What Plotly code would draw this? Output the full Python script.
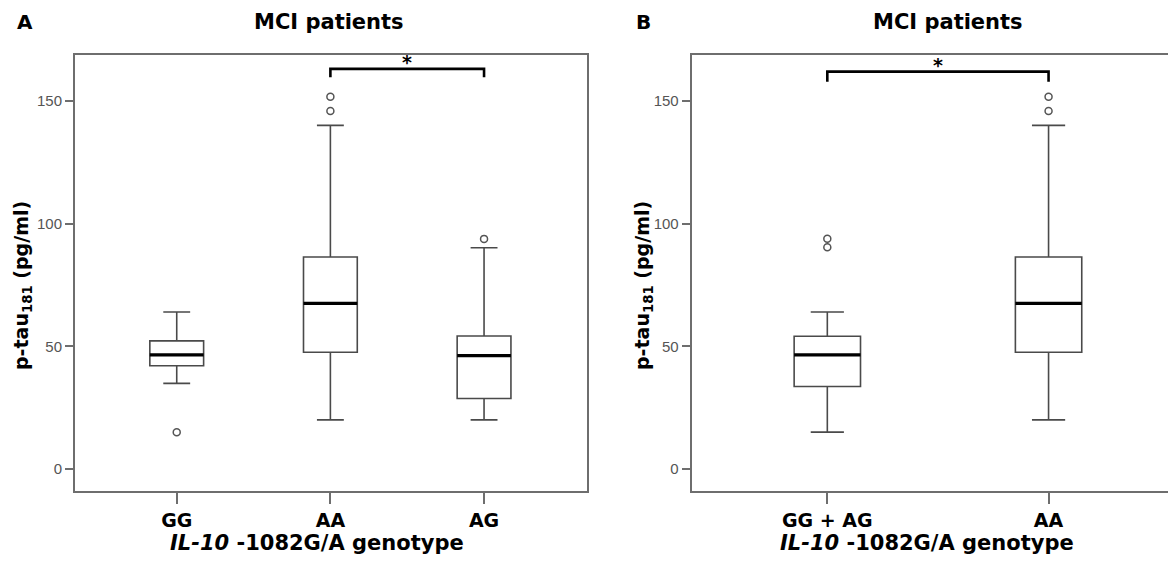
import plotly.graph_objects as go

# ---------------- data ----------------
cats_a = ["GG", "AA", "AG"]
q1_a = [42.1, 47.6, 28.7]
med_a = [46.5, 67.5, 46.2]
q3_a = [52.2, 86.4, 54.2]
low_a = [34.9, 20.0, 20.0]
up_a = [64.0, 140.1, 90.2]
out_a_cat = [0, 1, 1, 2]
out_a_val = [15.0, 151.8, 145.9, 93.8]

cats_b = ["GG + AG", "AA"]
q1_b = [33.6, 47.6]
med_b = [46.5, 67.5]
q3_b = [54.1, 86.4]
low_b = [15.0, 20.0]
up_b = [64.0, 140.1]
out_b_cat = [0, 0, 1, 1]
out_b_val = [93.9, 90.4, 151.8, 145.9]

yticks = [0, 50, 100, 150]
sig_a = [1, 2]          # compared groups, panel A
sig_b = [0, 1]          # compared groups, panel B
sig_a_y = [159.7, 163.1]
sig_b_y = [157.9, 162.0]

# ---------------- styling ----------------
OFF = 8                      # page body margin offset
W, H = 1176 - OFF, 575 - OFF
BOX_COL = "#4a4a4a"
FRAME_COL = "#6e6e6e"
BOLD = "DejaVu Sans"
NARROW = "Liberation Sans"
bw_a, bw_b = 0.35, 0.30


def px(x):
    return (x - OFF) / W


def py(y):
    return 1 - (y - OFF) / H


fig = go.Figure()


def add_panel(xa, ya, cats, q1, med, q3, low, up, oc, ov, bw):
    idx = list(range(len(cats)))
    fig.add_trace(go.Box(
        x=idx, q1=q1, median=med, q3=q3, lowerfence=low, upperfence=up,
        width=bw, whiskerwidth=0.5, fillcolor="white",
        line=dict(color=BOX_COL, width=1.6), boxpoints=False,
        hoverinfo="skip", showlegend=False, xaxis=xa, yaxis=ya))
    mx, my = [], []
    for i, m in zip(idx, med):
        mx += [i - bw / 2, i + bw / 2, None]
        my += [m, m, None]
    fig.add_trace(go.Scatter(x=mx, y=my, mode="lines",
                             line=dict(color="black", width=3.2),
                             hoverinfo="skip", showlegend=False, xaxis=xa, yaxis=ya))
    fig.add_trace(go.Scatter(x=oc, y=ov, mode="markers",
                             marker=dict(symbol="circle-open", size=7, color="#555555",
                                         line=dict(width=1.5)),
                             hoverinfo="skip", showlegend=False, xaxis=xa, yaxis=ya))


def add_sig(xa, ya, pair, yv):
    fig.add_trace(go.Scatter(x=[pair[0], pair[0], pair[1], pair[1]],
                             y=[yv[0], yv[1], yv[1], yv[0]], mode="lines",
                             line=dict(color="black", width=2.6),
                             hoverinfo="skip", showlegend=False, xaxis=xa, yaxis=ya))
    fig.add_annotation(x=(pair[0] + pair[1]) / 2, y=yv[1], xref=xa, yref=ya,
                       text="<b>*</b>", showarrow=False, yanchor="bottom", yshift=-6,
                       font=dict(family=BOLD, size=19, color="black"))


add_panel("x", "y", cats_a, q1_a, med_a, q3_a, low_a, up_a, out_a_cat, out_a_val, bw_a)
add_panel("x2", "y2", cats_b, q1_b, med_b, q3_b, low_b, up_b, out_b_cat, out_b_val, bw_b)
add_sig("x", "y", sig_a, sig_a_y)
add_sig("x2", "y2", sig_b, sig_b_y)

ydom = [py(491), py(54.7)]
yrange = [-9.0, 168.9]

common_x = dict(showline=True, linecolor=FRAME_COL, linewidth=2, mirror=True,
                ticks="outside", ticklen=11, tickwidth=2, tickcolor=FRAME_COL,
                showgrid=False, zeroline=False,
                tickfont=dict(family=BOLD, size=19, color="black"))
common_y = dict(showline=True, linecolor=FRAME_COL, linewidth=2,
                ticks="outside", ticklen=8, tickwidth=1.6, tickcolor=FRAME_COL,
                showgrid=False, zeroline=False, range=yrange, domain=ydom,
                tickvals=yticks, ticktext=[str(v) for v in yticks],
                tickfont=dict(family=NARROW, size=15, color="#555555"))

fig.update_layout(
    width=W, height=H, margin=dict(l=0, r=0, t=0, b=0),
    paper_bgcolor="white", plot_bgcolor="white",
    xaxis=dict(common_x, domain=[px(75), px(586.7)], range=[-0.662, 2.668],
               tickvals=list(range(len(cats_a))), ticktext=[f"<b>{c}</b>" for c in cats_a],
               anchor="y"),
    yaxis=dict(common_y, mirror=True, anchor="x"),
    xaxis2=dict(common_x, domain=[px(691.7), 1.0], range=[-0.613, 1.576],
                tickvals=list(range(len(cats_b))), ticktext=[f"<b>{c}</b>" for c in cats_b],
                anchor="y2"),
    yaxis2=dict(common_y, mirror=False, anchor="x2"),
)

# ---------------- text ----------------
def ann(x, y, text, size, angle=0, xanchor="center"):
    fig.add_annotation(x=px(x), y=py(y), xref="paper", yref="paper", text=text,
                       showarrow=False, xanchor=xanchor, yanchor="middle", textangle=angle,
                       font=dict(family=BOLD, size=size, color="black"))

ann(15, 21.5, "<b>A</b>", 20, xanchor="left")
ann(634, 21.5, "<b>B</b>", 20, xanchor="left")
ann(329, 21.5, "<b>MCI patients</b>", 21)
ann(948, 21.5, "<b>MCI patients</b>", 21)
ann(22, 286, "<b>p-tau<sub>181</sub> (pg/ml)</b>", 19, angle=-90)
ann(643, 286, "<b>p-tau<sub>181</sub> (pg/ml)</b>", 19, angle=-90)
ann(317, 543, "<b><i>IL-10</i> -1082G/A genotype</b>", 21)
ann(927, 543, "<b><i>IL-10</i> -1082G/A genotype</b>", 21)

fig.write_html("out.html")
